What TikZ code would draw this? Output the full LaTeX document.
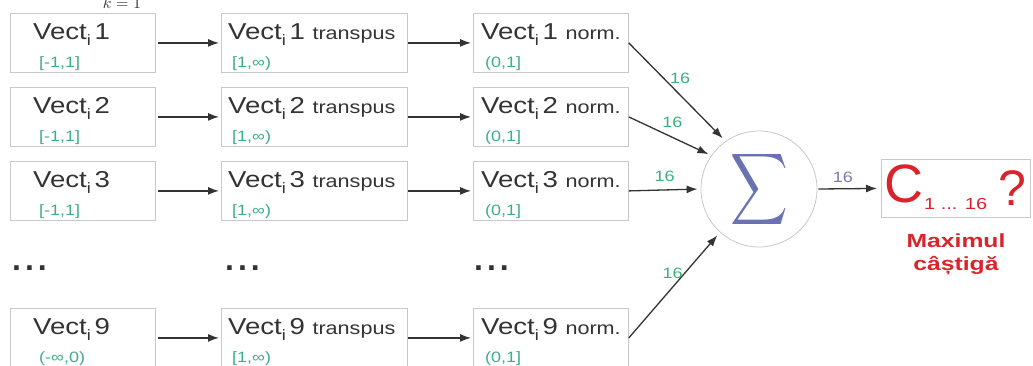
\documentclass[tikz,border=0pt]{standalone}
\usepackage{fontspec}
\setmainfont{Liberation Sans}
\usetikzlibrary{arrows.meta}

\definecolor{boxgray}{HTML}{C9C9C9}
\definecolor{textgray}{HTML}{333333}
\definecolor{rangegreen}{HTML}{3FAE8A}
\definecolor{labelgreen}{HTML}{3AB07A}
\definecolor{sumblue}{HTML}{6B72B3}
\definecolor{outblue}{HTML}{7A7AB0}
\definecolor{cred}{HTML}{D9242B}

% Vect with lowered i, then the index
\newcommand{\vecti}[1]{Vect\raisebox{-6pt}{\fontsize{15}{15}\selectfont i}\hspace{3pt}#1}
\newcommand{\widetxt}[2][1.2]{\scalebox{#1}[1]{#2}}
\newcommand{\sfx}[1]{{\fontsize{18}{18}\selectfont #1}}

\begin{document}
\begin{tikzpicture}[x=1pt,y=-1pt,
    box/.style={draw=boxgray, line width=0.8pt, fill=white, anchor=north west, inner sep=0pt, minimum height=59pt},
    vt/.style={anchor=base west, text=textgray, font=\fontsize{23}{23}\selectfont, inner sep=0pt},
    rangetext/.style={anchor=base west, text=rangegreen, font=\fontsize{15}{15}\selectfont, inner sep=0pt},
    dots/.style={anchor=base west, text=textgray, font=\bfseries\fontsize{32}{32}\selectfont, inner sep=0pt},
    arr/.style={-{Latex[length=11pt,width=8pt]}, line width=1.3pt, textgray},
    lbl/.style={text=labelgreen, font=\fontsize{15}{15}\selectfont, inner sep=0pt}]
    \useasboundingbox (0,0) rectangle (1033,365);

    \node[anchor=base, text=textgray, inner sep=0pt] (k) at (122,8) {\scalebox{1.6}{$k=1$}};

    % first column
    \node[box, minimum width=145pt] (in1) at (10,13) {};
    \node[box, minimum width=145pt] (in2) at (10,87) {};
    \node[box, minimum width=145pt] (in3) at (10,161) {};
    \node[box, minimum width=145pt] (in9) at (10,308) {};
    \node[vt] (in1t) at ([shift={(23,26)}]in1.north west) {\widetxt{\vecti{1}}};
    \node[vt] (in2t) at ([shift={(23,26)}]in2.north west) {\widetxt{\vecti{2}}};
    \node[vt] (in3t) at ([shift={(23,26)}]in3.north west) {\widetxt{\vecti{3}}};
    \node[vt] (in9t) at ([shift={(23,26)}]in9.north west) {\widetxt{\vecti{9}}};
    \node[rangetext] (in1r) at ([shift={(29,54)}]in1.north west) {\widetxt{[-1,1]}};
    \node[rangetext] (in2r) at ([shift={(29,54)}]in2.north west) {\widetxt{[-1,1]}};
    \node[rangetext] (in3r) at ([shift={(29,54)}]in3.north west) {\widetxt{[-1,1]}};
    \node[rangetext] (in9r) at ([shift={(29,54)}]in9.north west) {\widetxt{(-∞,0)}};

    % second column
    \node[box, minimum width=186pt] (tr1) at (221,13) {};
    \node[box, minimum width=186pt] (tr2) at (221,87) {};
    \node[box, minimum width=186pt] (tr3) at (221,161) {};
    \node[box, minimum width=186pt] (tr9) at (221,308) {};
    \node[vt] (tr1t) at ([shift={(7,26)}]tr1.north west) {\widetxt{\vecti{1} \sfx{transpus}}};
    \node[vt] (tr2t) at ([shift={(7,26)}]tr2.north west) {\widetxt{\vecti{2} \sfx{transpus}}};
    \node[vt] (tr3t) at ([shift={(7,26)}]tr3.north west) {\widetxt{\vecti{3} \sfx{transpus}}};
    \node[vt] (tr9t) at ([shift={(7,26)}]tr9.north west) {\widetxt{\vecti{9} \sfx{transpus}}};
    \node[rangetext] (tr1r) at ([shift={(11,54)}]tr1.north west) {\widetxt{[1,∞)}};
    \node[rangetext] (tr2r) at ([shift={(11,54)}]tr2.north west) {\widetxt{[1,∞)}};
    \node[rangetext] (tr3r) at ([shift={(11,54)}]tr3.north west) {\widetxt{[1,∞)}};
    \node[rangetext] (tr9r) at ([shift={(11,54)}]tr9.north west) {\widetxt{[1,∞)}};

    % third column
    \node[box, minimum width=155pt] (nm1) at (473,13) {};
    \node[box, minimum width=155pt] (nm2) at (473,87) {};
    \node[box, minimum width=155pt] (nm3) at (473,161) {};
    \node[box, minimum width=155pt] (nm9) at (473,308) {};
    \node[vt] (nm1t) at ([shift={(8,26)}]nm1.north west) {\widetxt{\vecti{1} \sfx{norm.}}};
    \node[vt] (nm2t) at ([shift={(8,26)}]nm2.north west) {\widetxt{\vecti{2} \sfx{norm.}}};
    \node[vt] (nm3t) at ([shift={(8,26)}]nm3.north west) {\widetxt{\vecti{3} \sfx{norm.}}};
    \node[vt] (nm9t) at ([shift={(8,26)}]nm9.north west) {\widetxt{\vecti{9} \sfx{norm.}}};
    \node[rangetext] (nm1r) at ([shift={(12,54)}]nm1.north west) {\widetxt{(0,1]}};
    \node[rangetext] (nm2r) at ([shift={(12,54)}]nm2.north west) {\widetxt{(0,1]}};
    \node[rangetext] (nm3r) at ([shift={(12,54)}]nm3.north west) {\widetxt{(0,1]}};
    \node[rangetext] (nm9r) at ([shift={(12,54)}]nm9.north west) {\widetxt{(0,1]}};

    % dots
    \node[dots] (d1) at (12,270) {.\hspace{4pt}.\hspace{4pt}.};
    \node[dots] (d2) at (225,270) {.\hspace{4pt}.\hspace{4pt}.};
    \node[dots] (d3) at (474,270) {.\hspace{4pt}.\hspace{4pt}.};

    \draw[arr, shorten <=2pt, shorten >=2pt] (in1.east) -- (tr1.west);
    \draw[arr, shorten <=2pt, shorten >=2pt] (in2.east) -- (tr2.west);
    \draw[arr, shorten <=2pt, shorten >=2pt] (in3.east) -- (tr3.west);
    \draw[arr, shorten <=2pt, shorten >=2pt] (in9.east) -- (tr9.west);
    \draw[arr, shorten >=2pt] (tr1.east) -- (nm1.west);
    \draw[arr, shorten >=2pt] (tr2.east) -- (nm2.west);
    \draw[arr, shorten >=2pt] (tr3.east) -- (nm3.west);
    \draw[arr, shorten >=2pt] (tr9.east) -- (nm9.west);

    % sum and result
    \node[circle, draw=boxgray, line width=0.8pt, fill=white, minimum size=116pt, inner sep=0pt] (sum) at (759,189) {};
    \node[text=sumblue, inner sep=0pt] (sig) at (sum.center) {\scalebox{4}[5]{$\displaystyle\sum$}};
    \node[box, minimum width=149pt, minimum height=58pt] (res) at (881,159) {};
    \node[anchor=base west, text=cred, font=\fontsize{54}{54}\selectfont, inner sep=0pt] (cc) at (884,202) {C};
    \node[anchor=base west, text=cred, font=\fontsize{16}{16}\selectfont, inner sep=0pt] (csub) at (924,209) {\widetxt[1.25]{1 ... 16}};
    \node[anchor=base west, text=cred, font=\fontsize{50}{50}\selectfont, inner sep=0pt] (cq) at (998,205) {?};
    \node[anchor=base, text=cred, font=\bfseries\fontsize{19}{19}\selectfont, inner sep=0pt] (mx) at (956,247) {\widetxt[1.3]{Maximul}};
    \node[anchor=base, text=cred, font=\bfseries\fontsize{19}{19}\selectfont, inner sep=0pt] (cs) at (956,270) {\widetxt[1.3]{câștigă}};

    \draw[arr, shorten >=4pt] (nm1.east) -- (sum.125) node[lbl, pos=0.42, anchor=south west] {\widetxt{16}};
    \draw[arr, shorten >=3pt] (nm2.east) -- (sum.145) node[lbl, pos=0.53, above=9pt] {\widetxt{16}};
    \draw[arr, shorten >=3pt] (nm3.east) -- (sum.west) node[lbl, pos=0.5, above=8pt] {\widetxt{16}};
    \draw[arr, shorten >=4pt] (nm9.east) -- (sum.228) node[lbl, pos=0.48, above=8pt] {\widetxt{16}};
    \draw[arr, shorten <=1pt, shorten >=4pt] (sum.east) -- (res.west) node[lbl, pos=0.4, above=5pt, text=outblue] {\widetxt{16}};
\end{tikzpicture}
\end{document}
